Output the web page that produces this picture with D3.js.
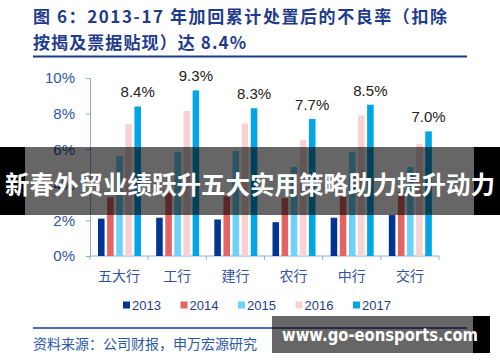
<!DOCTYPE html>
<html>
<head>
<meta charset="utf-8">
<script src="https://cdn.jsdelivr.net/npm/d3@7"></script>
<style>
  body { margin: 0; background: #fff; }
  svg { display: block; }
</style>
</head>
<body>
<div id="chart"></div>
<script>
var width = 500,
    height = 362;

var categories = ["五大行", "工行", "建行", "农行", "中行", "交行"];
var years = ["2013", "2014", "2015", "2016", "2017"];
var v2013 = [2.1, 2.15, 2.05, 1.9, 2.15, 2.3];
var v2014 = [3.3, 3.55, 3.35, 3.25, 3.35, 3.6];
var v2015 = [5.6, 5.85, 5.9, 5.0, 5.85, 5.0];
var v2016 = [7.4, 8.15, 7.45, 6.5, 7.9, 6.3];
var v2017 = [8.4, 9.3, 8.3, 7.7, 8.5, 7.0];
var yTicks = [0, 2, 4, 6, 8, 10];
var colors = ["#003594", "#e46464", "#6dd2fb", "#f7d2d4", "#00a6e6"];

var series = [v2013, v2014, v2015, v2016, v2017];

var cjk = "'Noto Sans CJK SC', sans-serif",
    latin = "'Liberation Sans', Arial, sans-serif",
    navy = "#1f3c8c",
    tickBlue = "#3352a2",
    axisColor = "#8eaed6";

var svg = d3.select("#chart").append("svg")
    .attr("width", width)
    .attr("height", height);

// title
var title = svg.append("g")
    .style("font-family", cjk)
    .style("font-weight", "bold")
    .style("font-size", "17px")
    .attr("fill", navy);
title.append("text").attr("x", 33).attr("y", 23)
    .attr("textLength", 414)
    .attr("lengthAdjust", "spacing")
    .text("图 6：2013-17 年加回累计处置后的不良率（扣除");
title.append("text").attr("x", 33).attr("y", 49)
    .attr("textLength", 213)
    .attr("lengthAdjust", "spacing")
    .text("按揭及票据贴现）达 8.4%");

svg.append("line")
    .attr("x1", 33).attr("x2", 467)
    .attr("y1", 56.5).attr("y2", 56.5)
    .attr("stroke", "#1b3a86")
    .attr("stroke-width", 2);

// scales
var x = d3.scaleBand()
    .domain(categories)
    .range([90, 439]);

var xInner = d3.scaleBand()
    .domain(years)
    .range([8, 51])
    .paddingInner(0.28);

var y = d3.scaleLinear()
    .domain([0, 10])
    .range([256, 78]);

// axes
var yAxis = svg.append("g")
    .attr("transform", "translate(90,0)")
    .call(d3.axisLeft(y).tickValues(yTicks).tickSize(4).tickPadding(11)
      .tickFormat(function(d) { return d + "%"; }));
yAxis.select(".domain").attr("stroke", axisColor);
yAxis.selectAll(".tick line").attr("stroke", axisColor);
yAxis.selectAll(".tick text")
    .attr("fill", tickBlue)
    .style("font-family", latin)
    .style("font-size", "15px");

var xAxis = svg.append("g")
    .attr("transform", "translate(0,256)");
xAxis.append("line")
    .attr("x1", 90).attr("x2", 439)
    .attr("stroke", axisColor);
xAxis.selectAll(".xtick")
    .data(categories.concat(["end"]))
  .enter().append("line")
    .attr("class", "xtick")
    .attr("x1", function(d, i) { return 90 + i * x.step(); })
    .attr("x2", function(d, i) { return 90 + i * x.step(); })
    .attr("y1", 0).attr("y2", 4)
    .attr("stroke", axisColor);
xAxis.selectAll(".xlabel")
    .data(categories)
  .enter().append("text")
    .attr("class", "xlabel")
    .attr("x", function(d) { return x(d) + x.bandwidth() / 2; })
    .attr("y", 25)
    .attr("text-anchor", "middle")
    .attr("fill", tickBlue)
    .style("font-family", cjk)
    .style("font-size", "14px")
    .text(function(d) { return d; });

// bars
var groups = svg.selectAll(".cat")
    .data(categories)
  .enter().append("g")
    .attr("class", "cat")
    .attr("transform", function(d) { return "translate(" + x(d) + ",0)"; });

groups.selectAll("rect")
    .data(function(d, ci) {
      return years.map(function(yr, si) { return { year: yr, si: si, value: series[si][ci] }; });
    })
  .enter().append("rect")
    .attr("x", function(d) { return xInner(d.year); })
    .attr("y", function(d) { return y(d.value); })
    .attr("width", xInner.bandwidth())
    .attr("height", function(d) { return y(0) - y(d.value); })
    .attr("fill", function(d) { return colors[d.si]; });

groups.append("text")
    .attr("x", xInner("2017") + xInner.bandwidth() / 2)
    .attr("y", function(d, ci) { return y(v2017[ci]) - 9; })
    .attr("text-anchor", "middle")
    .attr("fill", "#222")
    .style("font-family", latin)
    .style("font-size", "15px")
    .text(function(d, ci) { return v2017[ci].toFixed(1) + "%"; });

// legend
var legend = svg.selectAll(".legend")
    .data(years)
  .enter().append("g")
    .attr("class", "legend")
    .attr("transform", function(d, i) { return "translate(" + (123 + i * 57.5) + ",305)"; });
legend.append("rect")
    .attr("x", 0).attr("y", -3.5)
    .attr("width", 7).attr("height", 7)
    .attr("fill", function(d, i) { return colors[i]; });
legend.append("text")
    .attr("x", 9).attr("y", 5)
    .attr("fill", navy)
    .style("font-family", latin)
    .style("font-size", "13px")
    .text(function(d) { return d; });

// source
svg.append("line")
    .attr("x1", 33).attr("x2", 467)
    .attr("y1", 328).attr("y2", 328)
    .attr("stroke", "#1b3a86")
    .attr("stroke-width", 1.5);
svg.append("text")
    .attr("x", 33).attr("y", 349)
    .attr("fill", "#2a58a8")
    .style("font-family", cjk)
    .style("font-size", "14px")
    .text("资料来源：公司财报，申万宏源研究");

// overlay banner
svg.append("rect").attr("x", 0).attr("y", 147).attr("width", 25).attr("height", 68).attr("fill", "#000");
svg.append("rect").attr("x", 474).attr("y", 147).attr("width", 26).attr("height", 68).attr("fill", "#000");
svg.append("rect").attr("x", 25).attr("y", 147).attr("width", 449).attr("height", 68)
    .attr("fill", "rgba(0,0,0,0.6)");
svg.append("text")
    .attr("x", 250).attr("y", 194)
    .attr("text-anchor", "middle")
    .attr("fill", "#fff")
    .style("font-family", cjk)
    .style("font-weight", "bold")
    .style("font-size", "24.5px")
    .text("新春外贸业绩跃升五大实用策略助力提升动力");

// watermark
svg.append("rect").attr("x", 272).attr("y", 316).attr("width", 201).attr("height", 37)
    .attr("fill", "rgba(0,0,0,0.6)");
svg.append("rect").attr("x", 473).attr("y", 316).attr("width", 17).attr("height", 37)
    .attr("fill", "#000");
svg.append("text")
    .attr("x", 282).attr("y", 341)
    .attr("fill", "#fff")
    .attr("textLength", 196)
    .attr("lengthAdjust", "spacingAndGlyphs")
    .style("font-family", "'DejaVu Sans', sans-serif")
    .style("font-weight", "bold")
    .style("font-size", "18px")
    .text("www.go-eonsports.com");
</script>
</body>
</html>
